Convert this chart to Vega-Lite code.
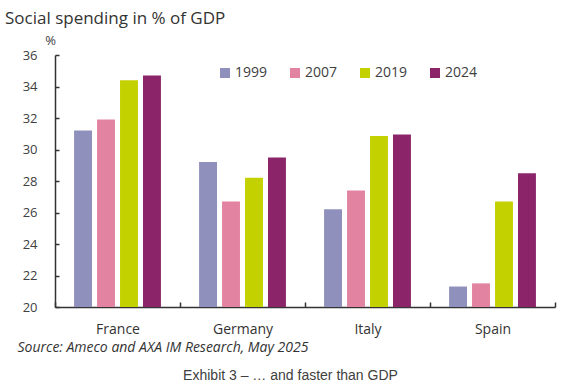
{
  "$schema": "https://vega.github.io/schema/vega-lite/v6.json",
  "width": 500,
  "height": 252,
  "autosize": "none",
  "padding": {"left": 55, "top": 55, "right": 11, "bottom": 79},
  "background": "white",
  "config": {"view": {"stroke": null}, "font": "Open Sans"},
  "title": {"text": "Social spending in % of GDP", "anchor": "start", "frame": "group", "dx": -50, "offset": 6, "fontSize": 17, "fontWeight": "normal", "color": "#333333", "font": "Open Sans"},
  "data": {"values": [
    {"country": "France", "year": "1999", "value": 31.2},
    {"country": "France", "year": "2007", "value": 31.9},
    {"country": "France", "year": "2019", "value": 34.4},
    {"country": "France", "year": "2024", "value": 34.7},
    {"country": "Germany", "year": "1999", "value": 29.2},
    {"country": "Germany", "year": "2007", "value": 26.7},
    {"country": "Germany", "year": "2019", "value": 28.2},
    {"country": "Germany", "year": "2024", "value": 29.5},
    {"country": "Italy", "year": "1999", "value": 26.2},
    {"country": "Italy", "year": "2007", "value": 27.4},
    {"country": "Italy", "year": "2019", "value": 30.85},
    {"country": "Italy", "year": "2024", "value": 30.95},
    {"country": "Spain", "year": "1999", "value": 21.3},
    {"country": "Spain", "year": "2007", "value": 21.5},
    {"country": "Spain", "year": "2019", "value": 26.7},
    {"country": "Spain", "year": "2024", "value": 28.5}
  ]},
  "encoding": {
    "y": {"field": "value", "type": "quantitative", "scale": {"domain": [20, 36], "nice": false, "zero": false},
      "axis": {"title": "%", "titleAngle": 0, "titleX": -5, "titleY": -15, "titleAlign": "center", "titleBaseline": "middle", "titleFontSize": 13, "titleFontWeight": "normal", "titleColor": "#404040",
        "values": [20, 22, 24, 26, 28, 30, 32, 34, 36], "labelOverlap": false, "grid": false, "domainColor": "#333333", "domainWidth": 1.5, "tickColor": "#333333", "tickSize": -4, "tickWidth": 1.5, "labelPadding": 22, "labelFontSize": 13, "labelColor": "#404040"}},
    "y2": {"datum": 20}
  },
  "layer": [
    {
      "mark": {"type": "bar"},
      "encoding": {
        "x": {"field": "country", "type": "nominal", "sort": ["France", "Germany", "Italy", "Spain"],
          "scale": {"paddingInner": 0, "paddingOuter": 0},
          "axis": {"title": "Source: Ameco and AXA IM Research, May 2025", "titleFontStyle": "italic", "titleFont": "Open Sans", "titleFontSize": 14, "titleFontWeight": "normal", "titleColor": "#333333", "titleX": -38, "titleY": 40, "titleAlign": "left", "titleBaseline": "middle", "titleAnchor": null,
            "labelAngle": 0, "labelFontSize": 14, "labelColor": "#333333", "labelPadding": 20, "tickBand": "extent", "tickSize": -5, "tickColor": "#333333", "tickWidth": 1.5, "domainColor": "#333333", "domainWidth": 1.5}},
        "xOffset": {"field": "year", "type": "nominal", "scale": {"paddingInner": 0.22, "paddingOuter": 0.83}},
        "color": {"field": "year", "type": "nominal",
          "scale": {"domain": ["1999", "2007", "2019", "2024"], "range": ["#9090bc", "#e283a2", "#c3d100", "#8b2468"]},
          "legend": {"orient": "none", "legendX": 163, "legendY": 11, "direction": "horizontal", "title": null, "symbolType": "square", "symbolSize": 100, "symbolStrokeWidth": 0, "labelFontSize": 14, "labelColor": "#404040", "columnPadding": 20, "labelOffset": 3}}
      }
    },
    {
      "mark": {"type": "bar", "opacity": 0},
      "encoding": {
        "x": {"field": "country", "type": "nominal", "sort": ["France", "Germany", "Italy", "Spain"],
          "axis": {"orient": "top", "domain": false, "ticks": false, "labels": false, "title": "Exhibit 3 – … and faster than GDP", "titleFont": "Liberation Sans", "titleFontSize": 14, "titleFontWeight": "normal", "titleColor": "#404040", "titleX": 235, "titleY": 320, "titleAlign": "center", "titleBaseline": "middle"}}
      }
    }
  ],
  "resolve": {"scale": {"x": "independent"}, "axis": {"x": "independent"}}
}
